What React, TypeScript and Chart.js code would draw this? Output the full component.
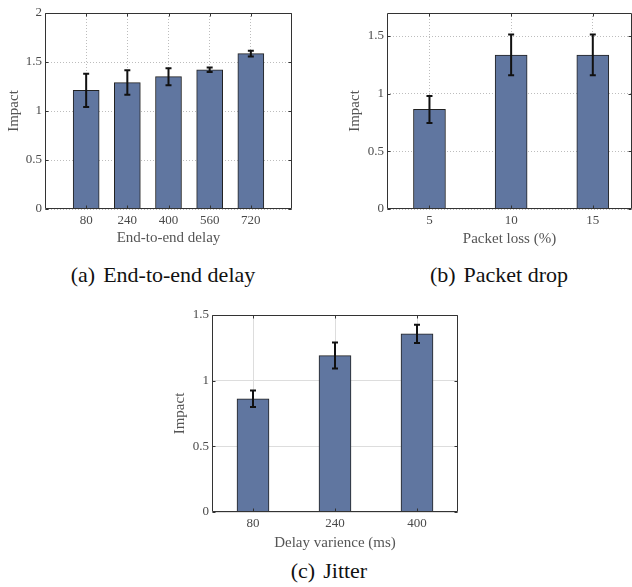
import React, { useEffect, useRef } from 'react';
import { Chart, registerables } from 'chart.js';
Chart.register(...registerables);

// (a) End-to-end delay
const delayLabels = [80, 240, 400, 560, 720];
const delayImpact = [1.21, 1.29, 1.35, 1.42, 1.585];
const delayError = [0.17, 0.125, 0.087, 0.023, 0.03];
const delayYTicks = [0, 0.5, 1, 1.5, 2];

// (b) Packet drop
const lossLabels = [5, 10, 15];
const lossImpact = [0.864, 1.336, 1.336];
const lossError = [0.117, 0.177, 0.177];
const lossYTicks = [0, 0.5, 1, 1.5];

// (c) Jitter
const jitterLabels = [80, 240, 400];
const jitterImpact = [0.862, 1.191, 1.356];
const jitterError = [0.063, 0.099, 0.07];
const jitterYTicks = [0, 0.5, 1, 1.5];

const SERIF = '"Liberation Serif", "Times New Roman", serif';
const BAR_FILL = '#6076a0';
const BAR_EDGE = '#222222';
const TICK_COLOR = '#4a4a4a';
const TITLE_COLOR = '#555555';

type PanelProps = {
  labels: number[];
  values: number[];
  errors: number[];
  yTicks: number[];
  xMin: number;
  xMax: number;
  yMax: number;
  xTitle: string;
  dashed: boolean;
  box: { left: number; top: number; width: number; height: number };
  plot: { left: number; right: number; top: number; bottom: number };
  yTitleX: number;
  xTitleY: number;
  barThickness: number;
};

function Panel(p: PanelProps) {
  const ref = useRef<HTMLCanvasElement | null>(null);
  useEffect(() => {
    if (!ref.current) return;
    const W = p.box.width;
    const H = p.box.height;
    const gridColor = p.dashed ? '#bdbdbd' : '#dddddd';
    const dash = p.dashed ? [1, 2] : [];
    const titleFont = { family: SERIF, size: 15 };
    const tickFont = { family: SERIF, size: 13 };

    const errorBars = {
      id: 'errorBars',
      afterDatasetsDraw(chart: any) {
        const { ctx } = chart;
        const yScale = chart.scales.y;
        const meta = chart.getDatasetMeta(0);
        ctx.save();
        ctx.strokeStyle = '#111111';
        ctx.lineWidth = 2;
        meta.data.forEach((bar: any, i: number) => {
          const v = p.values[i];
          const e = p.errors[i];
          const x = bar.x;
          const yT = yScale.getPixelForValue(v + e);
          const yB = yScale.getPixelForValue(v - e);
          ctx.beginPath();
          ctx.moveTo(x, yT);
          ctx.lineTo(x, yB);
          ctx.moveTo(x - 3, yT);
          ctx.lineTo(x + 3, yT);
          ctx.moveTo(x - 3, yB);
          ctx.lineTo(x + 3, yB);
          ctx.stroke();
        });
        ctx.restore();
      },
    };

    const frame = {
      id: 'frame',
      afterDraw(chart: any) {
        const { ctx, chartArea: a, scales } = chart;
        ctx.save();
        ctx.strokeStyle = '#333333';
        ctx.lineWidth = 1;
        const l = Math.round(a.left) + 0.5;
        const r = Math.round(a.right) - 0.5;
        const t = Math.round(a.top) + 0.5;
        const b = Math.round(a.bottom) - 0.5;
        ctx.beginPath();
        ctx.rect(l, t, r - l, b - t);
        ctx.stroke();
        ctx.beginPath();
        p.labels.forEach((v) => {
          const x = Math.round(scales.x.getPixelForValue(v)) + 0.5;
          ctx.moveTo(x, b);
          ctx.lineTo(x, b - 3);
          ctx.moveTo(x, t);
          ctx.lineTo(x, t + 3);
        });
        p.yTicks.forEach((v) => {
          const y = Math.round(scales.y.getPixelForValue(v)) + 0.5;
          ctx.moveTo(l, y);
          ctx.lineTo(l + 3, y);
          ctx.moveTo(r, y);
          ctx.lineTo(r - 3, y);
        });
        ctx.stroke();
        ctx.restore();
      },
    };

    const chart = new Chart(ref.current, {
      type: 'bar',
      data: {
        datasets: [
          {
            data: p.labels.map((l, i) => ({ x: l, y: p.values[i] })),
            backgroundColor: BAR_FILL,
            borderColor: BAR_EDGE,
            borderWidth: 1,
            barThickness: p.barThickness,
          } as any,
        ],
      },
      options: {
        responsive: false,
        animation: false,
        devicePixelRatio: 1,
        layout: {
          padding: { left: 0, top: p.plot.top, right: W - p.plot.right, bottom: 0 },
        },
        plugins: { legend: { display: false }, tooltip: { enabled: false } },
        scales: {
          x: {
            type: 'linear',
            min: p.xMin,
            max: p.xMax,
            offset: false,
            afterBuildTicks: (s: any) => {
              s.ticks = p.labels.map((v) => ({ value: v }));
            },
            afterFit: (s: any) => {
              s.height = H - p.plot.bottom;
            },
            grid: { color: gridColor, drawTicks: false, offset: false, borderDash: dash } as any,
            border: { display: false, dash },
            ticks: {
              color: TICK_COLOR,
              font: tickFont,
              padding: 4,
              maxRotation: 0,
              autoSkip: false,
              callback: (v: any) => String(v),
            },
            title: {
              display: true,
              text: p.xTitle,
              color: TITLE_COLOR,
              font: titleFont,
              padding: { top: 0, bottom: H - p.xTitleY - 9 },
            },
          },
          y: {
            type: 'linear',
            min: 0,
            max: p.yMax,
            afterBuildTicks: (s: any) => {
              s.ticks = p.yTicks.map((v) => ({ value: v }));
            },
            afterFit: (s: any) => {
              s.width = p.plot.left;
            },
            grid: { color: gridColor, drawTicks: false, borderDash: dash } as any,
            border: { display: false, dash },
            ticks: {
              color: TICK_COLOR,
              font: tickFont,
              padding: 3,
              callback: (v: any) => String(v),
            },
            title: {
              display: true,
              text: 'Impact',
              color: TITLE_COLOR,
              font: titleFont,
              padding: { top: p.yTitleX - 9, bottom: 0 },
            },
          },
        },
      } as any,
      plugins: [errorBars, frame],
    });
    return () => chart.destroy();
  }, []);
  return (
    <canvas
      ref={ref}
      width={p.box.width}
      height={p.box.height}
      style={{
        position: 'absolute',
        left: p.box.left,
        top: p.box.top,
        width: p.box.width,
        height: p.box.height,
      }}
    />
  );
}

function Caption({ tag, text, cx, cy }: { tag: string; text: string; cx: number; cy: number }) {
  return (
    <div
      style={{
        position: 'absolute',
        left: cx - 150,
        top: cy - 13,
        width: 300,
        height: 26,
        lineHeight: '26px',
        textAlign: 'center',
        fontFamily: SERIF,
        fontSize: 22,
        color: '#111',
        whiteSpace: 'pre',
      }}
    >
      <span style={{ marginRight: 8 }}>{tag}</span>
      <span>{text}</span>
    </div>
  );
}

export default function App() {
  return (
    <div
      style={{
        position: 'absolute',
        left: 0,
        top: 0,
        width: 632,
        height: 587,
        background: '#ffffff',
        overflow: 'hidden',
      }}
    >
      <Panel
        labels={delayLabels}
        values={delayImpact}
        errors={delayError}
        yTicks={delayYTicks}
        xMin={-80}
        xMax={880}
        yMax={2}
        xTitle="End-to-end delay"
        dashed={true}
        box={{ left: 0, top: 0, width: 320, height: 250 }}
        plot={{ left: 45, right: 292, top: 13, bottom: 209 }}
        yTitleX={14}
        xTitleY={238}
        barThickness={26}
      />
      <Panel
        labels={lossLabels}
        values={lossImpact}
        errors={lossError}
        yTicks={lossYTicks}
        xMin={2.4}
        xMax={17.4}
        yMax={1.7}
        xTitle="Packet loss (%)"
        dashed={true}
        box={{ left: 330, top: 0, width: 302, height: 250 }}
        plot={{ left: 57, right: 302, top: 13, bottom: 209 }}
        yTitleX={25}
        xTitleY={239}
        barThickness={32}
      />
      <Panel
        labels={jitterLabels}
        values={jitterImpact}
        errors={jitterError}
        yTicks={jitterYTicks}
        xMin={0}
        xMax={480}
        yMax={1.5}
        xTitle="Delay varience (ms)"
        dashed={false}
        box={{ left: 170, top: 300, width: 300, height: 255 }}
        plot={{ left: 42, right: 288, top: 15, bottom: 212 }}
        yTitleX={10}
        xTitleY={243}
        barThickness={32}
      />
      <Caption tag="(a)" text="End-to-end delay" cx={163} cy={275} />
      <Caption tag="(b)" text="Packet drop" cx={499} cy={275} />
      <Caption tag="(c)" text="Jitter" cx={329} cy={571} />
    </div>
  );
}
